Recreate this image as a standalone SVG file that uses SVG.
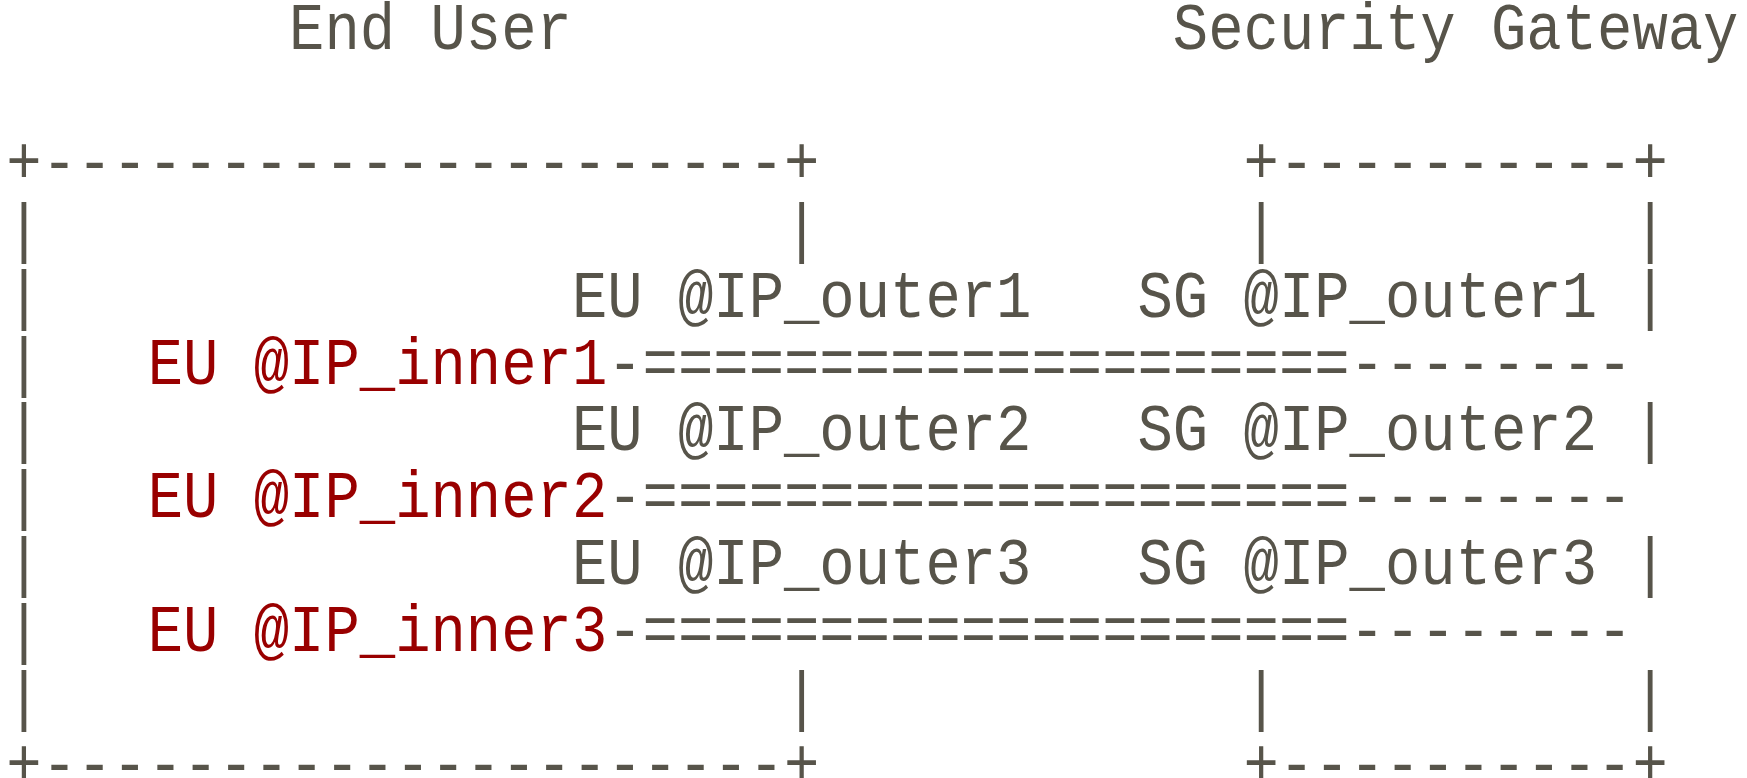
<svg xmlns="http://www.w3.org/2000/svg" width="1747" height="778" viewBox="0 0 1747 778">
<style>
text{font-family:"Liberation Mono","DejaVu Sans Mono",monospace;font-size:66px;fill:#57544a;lengthAdjust:spacingAndGlyphs}
.r{fill:#990000}
</style>
<rect width="1747" height="778" fill="#ffffff"/>
<g id="titles">
<text x="289.1" y="49" textLength="282.8" lengthAdjust="spacingAndGlyphs">End User</text>
<text x="1172.85" y="49" textLength="565.6" lengthAdjust="spacingAndGlyphs">Security Gateway</text>
</g>
<g id="end-user">
<text x="6.3" y="182.8" textLength="813.05" lengthAdjust="spacingAndGlyphs">+---------------------+</text>
<text x="6.3" y="249.7" textLength="35.35" lengthAdjust="spacingAndGlyphs">|</text>
<text x="784" y="249.7" textLength="35.35" lengthAdjust="spacingAndGlyphs">|</text>
<text x="6.3" y="316.6" textLength="35.35" lengthAdjust="spacingAndGlyphs">|</text>
<text x="6.3" y="383.5" textLength="35.35" lengthAdjust="spacingAndGlyphs">|</text>
<text x="6.3" y="450.4" textLength="35.35" lengthAdjust="spacingAndGlyphs">|</text>
<text x="6.3" y="517.3" textLength="35.35" lengthAdjust="spacingAndGlyphs">|</text>
<text x="6.3" y="584.2" textLength="35.35" lengthAdjust="spacingAndGlyphs">|</text>
<text x="6.3" y="651.1" textLength="35.35" lengthAdjust="spacingAndGlyphs">|</text>
<text x="6.3" y="718" textLength="35.35" lengthAdjust="spacingAndGlyphs">|</text>
<text x="784" y="718" textLength="35.35" lengthAdjust="spacingAndGlyphs">|</text>
<text x="6.3" y="784.9" textLength="813.05" lengthAdjust="spacingAndGlyphs">+---------------------+</text>
<text class="r" x="147.7" y="383.5" textLength="459.55" lengthAdjust="spacingAndGlyphs">EU @IP_inner1</text>
<text class="r" x="147.7" y="517.3" textLength="459.55" lengthAdjust="spacingAndGlyphs">EU @IP_inner2</text>
<text class="r" x="147.7" y="651.1" textLength="459.55" lengthAdjust="spacingAndGlyphs">EU @IP_inner3</text>
<text x="571.9" y="316.6" textLength="459.55" lengthAdjust="spacingAndGlyphs">EU @IP_outer1</text>
<text x="571.9" y="450.4" textLength="459.55" lengthAdjust="spacingAndGlyphs">EU @IP_outer2</text>
<text x="571.9" y="584.2" textLength="459.55" lengthAdjust="spacingAndGlyphs">EU @IP_outer3</text>
</g>
<g id="security-gateway">
<text x="1243.55" y="182.8" textLength="424.2" lengthAdjust="spacingAndGlyphs">+----------+</text>
<text x="1243.55" y="249.7" textLength="35.35" lengthAdjust="spacingAndGlyphs">|</text>
<text x="1632.4" y="249.7" textLength="35.35" lengthAdjust="spacingAndGlyphs">|</text>
<text x="1632.4" y="316.6" textLength="35.35" lengthAdjust="spacingAndGlyphs">|</text>
<text x="1632.4" y="450.4" textLength="35.35" lengthAdjust="spacingAndGlyphs">|</text>
<text x="1632.4" y="584.2" textLength="35.35" lengthAdjust="spacingAndGlyphs">|</text>
<text x="1243.55" y="718" textLength="35.35" lengthAdjust="spacingAndGlyphs">|</text>
<text x="1632.4" y="718" textLength="35.35" lengthAdjust="spacingAndGlyphs">|</text>
<text x="1243.55" y="784.9" textLength="424.2" lengthAdjust="spacingAndGlyphs">+----------+</text>
<text x="1137.5" y="316.6" textLength="459.55" lengthAdjust="spacingAndGlyphs">SG @IP_outer1</text>
<text x="1137.5" y="450.4" textLength="459.55" lengthAdjust="spacingAndGlyphs">SG @IP_outer2</text>
<text x="1137.5" y="584.2" textLength="459.55" lengthAdjust="spacingAndGlyphs">SG @IP_outer3</text>
</g>
<g id="connectors">
<text x="607.25" y="383.5" textLength="1025.15" lengthAdjust="spacingAndGlyphs">-====================--------</text>
<text x="607.25" y="517.3" textLength="1025.15" lengthAdjust="spacingAndGlyphs">-====================--------</text>
<text x="607.25" y="651.1" textLength="1025.15" lengthAdjust="spacingAndGlyphs">-====================--------</text>
</g>
</svg>
